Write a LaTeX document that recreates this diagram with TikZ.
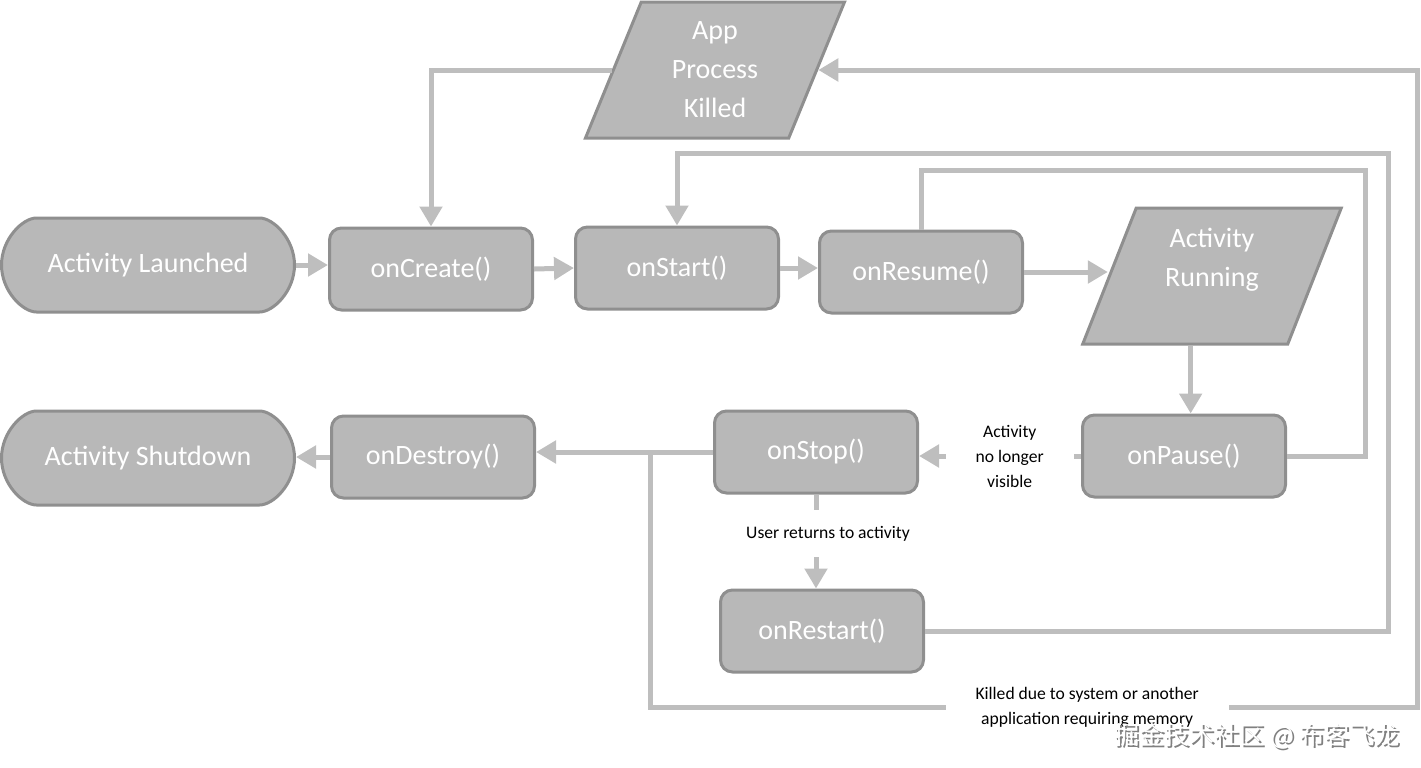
\documentclass[tikz,border=0pt]{standalone}
\usepackage{fontspec}
\setmainfont{Carlito}
\newfontfamily\cjkfont{Noto Sans CJK SC}
\usetikzlibrary{arrows.meta, shapes.geometric, shapes.misc, calc}
\definecolor{boxfill}{HTML}{B8B8B8}
\definecolor{boxline}{HTML}{8F8F8F}
\definecolor{wire}{HTML}{BEBEBE}

\begin{document}
\begin{tikzpicture}[x=0.5pt, y=-0.5pt,
    every node/.style={font=\fontsize{14}{19.5}\selectfont},
    state/.style={draw=boxline, line width=1.5pt, fill=boxfill, text=white, rounded corners=6pt,
      minimum width=101.5pt, minimum height=41pt, inner sep=0pt},
    term/.style={state, rounded rectangle, minimum width=146.5pt, minimum height=47pt},
    para/.style={draw=boxline, line width=1.5pt, fill=boxfill, text=white, trapezium,
      trapezium left angle=71, trapezium right angle=109, trapezium stretches=true,
      minimum width=130pt, minimum height=68pt, align=center},
    flow/.style={wire, line width=2.5pt, -{Triangle[length=10pt, width=11pt]}},
    wireline/.style={wire, line width=2.5pt},
    note/.style={fill=white, text=black, font=\fontsize{8.8}{12.5}\selectfont, align=center,
      inner xsep=15pt, inner ysep=8pt}]
    \useasboundingbox (0,0) rectangle (1421,767);

    % lifecycle states
    \node[para, text depth=0pt] (killed) at (715,70) {App\\Process\\Killed};
    \node[term] (launched) at (148,265) {Activity Launched};
    \node[state] (create) at (431,269) {onCreate()};
    \node[state] (start) at (677,268) {onStart()};
    \node[state] (resume) at (921,272) {onResume()};
    \node[para, text depth=19pt] (running) at (1212,276) {Activity\\Running};
    \node[state] (pause) at (1184,456) {onPause()};
    \node[state] (stop) at (816,452) {onStop()};
    \node[state] (destroy) at (433,457) {onDestroy()};
    \node[term] (shutdown) at (148,458) {Activity Shutdown};
    \node[state] (restart) at (822,631) {onRestart()};

    % main path
    \draw[flow] (launched.east) -- (launched.east -| create.west);
    \draw[flow] (create.east) -- (start.west);
    \draw[flow] (start.east) -- (start.east -| resume.west);
    \draw[flow] (resume.east) -- (resume.east -| running.west);
    \draw[flow] ([xshift=3pt]running.bottom side) -- ([xshift=3pt]running.bottom side |- pause.north);
    \draw[flow] (pause.west) -- node[note, pos=0.44] {Activity\\no longer\\visible} (pause.west -| stop.east);
    \draw[flow] (stop.west) -- (stop.west -| destroy.east);
    \draw[flow] (destroy.west) -- (destroy.west -| shutdown.east);
    \draw[flow] (stop.south) -- node[note, pos=0.42, xshift=6pt] {User returns to activity} (stop.south |- restart.north);

    % loops back
    \draw[flow] (killed.west) -| (create.north);
    \coordinate (restartturn) at (1388,153);
    \draw[flow] (restart.east) -| (restartturn) -| (start.north);
    \coordinate (pauseturn) at (1365,170);
    \draw[wireline] (pause.east) -| (pauseturn) -| (resume.north);
    \coordinate (killfork) at ($(stop.west)+(-63,0)$);
    \coordinate (killcorner) at (1417,707);
    \draw[flow] (killfork) |- node[note, pos=0.785] {Killed due to system or another\\application requiring memory}
      (killcorner) |- (killed.east);

    % watermark
    \node[font=\cjkfont\fontsize{12.5}{15}\selectfont, text=gray] (markshade) at (1259,738) {掘金技术社区 @ 布客飞龙};
    \node[font=\cjkfont\fontsize{12.5}{15}\selectfont, text=white] (mark) at (1257,736) {掘金技术社区 @ 布客飞龙};
\end{tikzpicture}
\end{document}
